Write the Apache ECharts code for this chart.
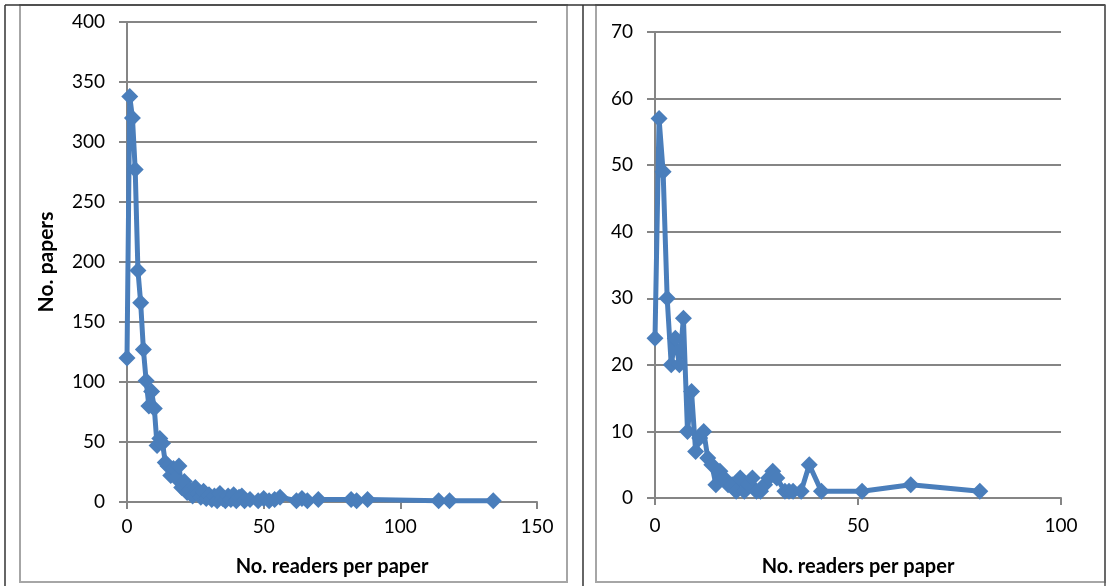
<!DOCTYPE html>
<html>
<head>
<meta charset="utf-8">
<script src="https://cdn.jsdelivr.net/npm/echarts@6/dist/echarts.min.js"></script>
<style>
html,body{margin:0;padding:0;background:#fff;}
#c{width:1112px;height:586px;}
</style>
</head>
<body>
<div id="c"></div>
<script>
// Left chart: readers per paper vs number of papers
const leftX = [0,1,2,3,4,5,6,7,8,9,10,11,12,13,14,15,16,17,18,19,20,21,22,23,24,25,26,27,28,29,30,31,32,33,34,35,36,37,38,39,40,41,42,43,45,48,50,52,54,56,62,64,66,70,82,84,88,114,118,134];
const leftY = [120,338,320,277,193,166,127,101,80,92,78,47,53,49,33,30,22,28,20,30,12,17,8,10,5,12,7,4,9,3,6,2,5,1,7,3,1,5,2,6,1,4,5,1,2,1,3,1,2,4,1,3,1,2,2,1,2,1,1,1];
// Right chart
const rightX = [0,1,2,3,4,5,6,7,8,9,10,11,12,13,14,15,16,17,18,19,20,21,22,23,24,25,26,27,28,29,30,32,33,34,36,38,41,51,63,80];
const rightY = [24,57,49,30,20,24,20,27,10,16,7,9,10,6,5,2,4,3,2,2,1,3,1,2,3,1,1,2,3,4,3,1,1,1,1,5,1,1,2,1];

const leftYTicks = {min:0,max:400,interval:50};
const leftXTicks = {min:0,max:150,interval:50};
const rightYTicks = {min:0,max:70,interval:10};
const rightXTicks = {min:0,max:100,interval:50};

const xTitle = 'No. readers per paper';
const yTitle = 'No. papers';

const FONT = 'Lato, "Liberation Sans", sans-serif';
const GRAY = '#858585';
const BLUE = '#4a7ebb';

function xAxis(gi, t, gap, lblMargin){
  return {
    type:'value', gridIndex:gi, min:t.min, max:t.max, interval:t.interval,
    name: xTitle, nameLocation:'middle', nameGap:gap,
    nameTextStyle:{fontFamily:FONT, fontWeight:'bold', fontSize:20, color:'#000'},
    axisLine:{show:true, onZero:false, lineStyle:{color:GRAY, width:2}},
    axisTick:{show:true, length:7, lineStyle:{color:GRAY, width:2}},
    axisLabel:{fontFamily:FONT, fontSize:19, color:'#000', margin:lblMargin},
    splitLine:{show:false}
  };
}
function yAxis(gi, t, name){
  return {
    type:'value', gridIndex:gi, min:t.min, max:t.max, interval:t.interval,
    name: name || '', nameLocation:'middle', nameGap:70,
    nameTextStyle:{fontFamily:FONT, fontWeight:'bold', fontSize:21, color:'#000'},
    axisLine:{show:true, onZero:false, lineStyle:{color:GRAY, width:2}},
    axisTick:{show:true, length:8, inside:false, lineStyle:{color:GRAY, width:2}},
    axisLabel:{fontFamily:FONT, fontSize:19, color:'#000', margin:22},
    splitLine:{show:true, lineStyle:{color:GRAY, width:2}}
  };
}

const leftData = leftX.map((x,i)=>[x,leftY[i]]);
const rightData = rightX.map((x,i)=>[x,rightY[i]]);

const chart = echarts.init(document.getElementById('c'), null, {renderer:'canvas'});
chart.setOption({
  animation:false,
  backgroundColor:'#fff',
  grid:[
    {left:127, right:575, top:22, bottom:84},
    {left:655, right:51, top:32, bottom:88}
  ],
  xAxis:[xAxis(0,leftXTicks,55,15), xAxis(1,rightXTicks,59,18)],
  yAxis:[yAxis(0,leftYTicks,yTitle), yAxis(1,rightYTicks,'')],
  series:[
    {type:'line', xAxisIndex:0, yAxisIndex:0, data:leftData, symbol:'diamond', symbolSize:[17,17],
     lineStyle:{color:BLUE, width:5}, itemStyle:{color:BLUE}},
    {type:'line', xAxisIndex:1, yAxisIndex:1, data:rightData, symbol:'diamond', symbolSize:[17,17],
     lineStyle:{color:BLUE, width:5}, itemStyle:{color:BLUE}}
  ],
  graphic:[
    {type:'rect', shape:{x:20, y:5, width:547, height:577}, style:{fill:'none', stroke:'#a6a6a6', lineWidth:2}, silent:true},
    {type:'rect', shape:{x:596, y:5, width:509, height:577}, style:{fill:'none', stroke:'#a6a6a6', lineWidth:2}, silent:true},
    {type:'line', shape:{x1:5, y1:5, x2:1105, y2:5}, style:{stroke:'#333', lineWidth:1.5}, silent:true},
    {type:'line', shape:{x1:5, y1:5, x2:5, y2:586}, style:{stroke:'#333', lineWidth:1.5}, silent:true},
    {type:'line', shape:{x1:583, y1:5, x2:583, y2:586}, style:{stroke:'#333', lineWidth:1.5}, silent:true},
    {type:'line', shape:{x1:1105, y1:5, x2:1105, y2:586}, style:{stroke:'#555', lineWidth:1.5}, silent:true}
  ]
});
</script>
</body>
</html>
